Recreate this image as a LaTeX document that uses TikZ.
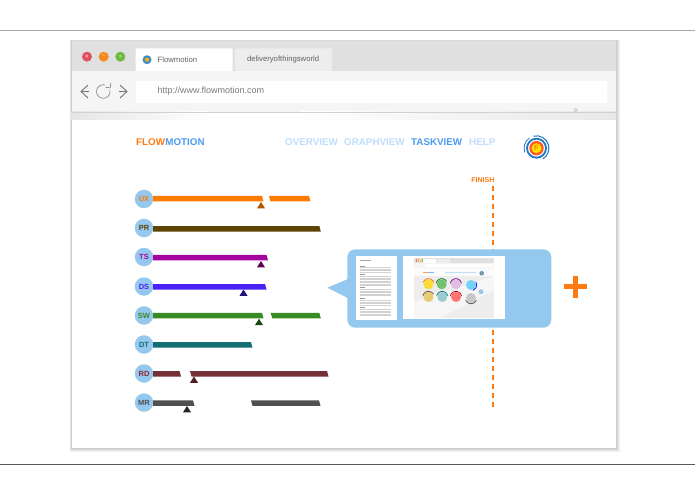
\documentclass[tikz,border=0pt]{standalone}
\usepackage{fontspec}
\setmainfont{Liberation Sans}
\usetikzlibrary{positioning}
\definecolor{badge}{HTML}{94C8EE}
\definecolor{flow}{HTML}{FF7A0F}
\definecolor{motion}{HTML}{4A9BF0}
\definecolor{navoff}{HTML}{BFDDFB}
\definecolor{logoblue}{HTML}{1F78C0}
\definecolor{closered}{HTML}{DF5060}
\definecolor{minorange}{HTML}{F28C1C}
\definecolor{maxgreen}{HTML}{6CBB3C}
\definecolor{uxbar}{HTML}{FF7A00}
\definecolor{prbar}{HTML}{5F4505}
\definecolor{tsbar}{HTML}{A5049F}
\definecolor{dsbar}{HTML}{4B22F5}
\definecolor{swbar}{HTML}{378B22}
\definecolor{dtbar}{HTML}{136D73}
\definecolor{rdbar}{HTML}{742F38}
\definecolor{mrbar}{HTML}{505050}
\tikzset{
  badgenode/.style={circle,fill=badge,minimum size=18.5pt,inner sep=0pt,font=\bfseries\fontsize{7.5}{8}\selectfont},
  navnode/.style={anchor=west,inner sep=0pt,font=\bfseries\fontsize{9.8}{12}\selectfont},
  tabnode/.style={anchor=west,inner sep=0pt,text=black!62,font=\fontsize{7.7}{9}\selectfont},
  lightnode/.style={circle,minimum size=10pt,inner sep=0pt,font=\bfseries\fontsize{6}{6}\selectfont},
  navarrow/.style={draw=black!55,line width=0.9pt},
  miniball/.style={circle,minimum size=10pt,inner sep=0pt},
  miniarc/.style={line width=0.7pt}
}
% slanted bar: colour, left, right, top y
\newcommand{\taskbar}[4]{\fill[#1] (#2,#4) -- (#3,#4) -- (#3+1.5,#4+5.5) -- (#2+1.5,#4+5.5) -- cycle;}
\newcommand{\firstbar}[4]{\fill[#1] (#2,#4) -- (#3,#4) -- (#3+1.5,#4+5.5) -- (#2,#4+5.5) -- cycle;}
\newcommand{\marker}[3]{\fill[#1] (#2-4,#3+6.3) -- (#2,#3) -- (#2+4,#3+6.3) -- cycle;}
\begin{document}
\begin{tikzpicture}[x=1pt,y=-1pt]
\useasboundingbox (0,0) rectangle (695,494);
\fill[white] (0,0) rectangle (695,494);
\draw[black!35,line width=0.8pt] (0,30) -- (695,30);
\draw[black!65,line width=0.8pt] (0,464) -- (695,464);

% window
\foreach \d in {1,2,3,4}
  \fill[black,opacity=0.05] (71.5-\d*0.5,41-\d*0.3) rectangle (616+\d,448+\d);
\fill[white] (71.5,41) rectangle (616,448);
\fill[black!12] (71.5,41) rectangle (616,71.5);
\fill[black!4] (71.5,71.5) rectangle (616,112);
\fill[left color=black!10,right color=white] (71.5,112) rectangle (208,120);
\fill[left color=white,right color=black!9] (300,112) rectangle (616,120);
\draw[black!18,line width=0.5pt] (71.5,112) -- (616,112);

% tabs
\node[lightnode,fill=closered,text=white!70!closered] (closedot) at (87,56.7) {×};
\node[lightnode,fill=minorange,text=white!60!minorange] (mindot) at (103.7,56.7) {−};
\node[lightnode,fill=maxgreen,text=white!60!maxgreen] (maxdot) at (120.3,56.7) {+};
\fill[white,rounded corners=1pt] (135.5,71) -- (135.5,48.3) -- (232.7,48.3) -- (232.7,71) -- cycle;
\fill[black!7,rounded corners=1pt] (235,71) -- (235,48.3) -- (332,48.3) -- (332,71) -- cycle;
\node[circle,fill=logoblue!85,minimum size=9pt,inner sep=0pt] (favicon) at (147,59.7) {};
\node[circle,fill=orange!60!yellow,minimum size=4pt,inner sep=0pt] (faviconcore) at (147,59.7) {};
\node[tabnode] (flowtab) at (157.5,59.7) {Flowmotion};
\node[tabnode] (worldtab) at (247,59.7) {deliveryofthingsworld};

% toolbar
\fill[white,rounded corners=1pt] (136,81) rectangle (607,103);
\node[tabnode,text=black!52,font=\fontsize{9}{10}\selectfont] (urltext) at (157.5,91.5) {http://www.flowmotion.com};
\draw[navarrow] (88,85) -- (81,91.5) -- (88,98) (81,91.5) -- (89,91.5);
\draw[navarrow] (120,85) -- (127,91.5) -- (120,98) (127,91.5) -- (119,91.5);
\coordinate (reload) at (103.3,91.5);
\draw[black!45,line width=0.7pt] (reload) ++(-75:6.8) arc (-75:-375:6.8);
\draw[black!45,line width=0.7pt] (110.8,83) -- (110.3,87.8) -- (105.5,87.3);
\node[circle,draw=black!25,line width=0.6pt,minimum size=3.5pt,inner sep=0pt] (gear) at (575.7,110) {};

% header
\node[navnode,text=flow] (flowword) at (136,142.3) {FLOW};
\node[navnode,text=motion] (motionword) at (flowword.east) {MOTION};
\node[navnode,text=navoff] (overview) at (285,142.3) {OVERVIEW};
\node[navnode,text=navoff] (graphview) at (344,142.3) {GRAPHVIEW};
\node[navnode,text=motion] (taskview) at (411,142.3) {TASKVIEW};
\node[navnode,text=navoff] (helpnav) at (469,142.3) {HELP};

% logo
\coordinate (logo) at (536.5,148.2);
\draw[logoblue,line width=1pt] (logo) ++(-105:12.4) arc (-105:60:12.4);
\draw[logoblue,line width=0.8pt] (logo) ++(-200:12.4) arc (-200:-125:12.4);
\node[circle,fill=white,draw=logoblue,line width=1.8pt,minimum size=19pt,inner sep=0pt] (logoring) at (logo) {};
\node[circle,fill=red!55!orange!85!white,minimum size=14.5pt,inner sep=0pt] (logomid) at (logo) {};
\node[circle,fill=yellow!85!orange,minimum size=10pt,inner sep=0pt,text=flow,font=\bfseries\fontsize{7.5}{8}\selectfont] (logocore) at (logo) {F};

% finish line
\node[anchor=east,inner sep=0pt,text=flow,font=\bfseries\fontsize{7}{8}\selectfont] (finish) at (494.5,180.3) {FINISH};
\coordinate (finishtop) at (493,186);
\coordinate (finishend) at (493,408);
\draw[flow,line width=1.3pt,dash pattern=on 5pt off 4pt] (finishtop) -- (finishend);

% rows
\node[badgenode,text=uxbar] (ux) at (144,199) {UX};
\node[badgenode,text=prbar] (pr) at (144,228) {PR};
\node[badgenode,text=tsbar] (ts) at (144,257) {TS};
\node[badgenode,text=dsbar] (ds) at (144,286.5) {DS};
\node[badgenode,text=swbar] (sw) at (144,315.5) {SW};
\node[badgenode,text=dtbar] (dt) at (144,344.5) {DT};
\node[badgenode,text=rdbar!80!red] (rd) at (144,373.5) {RD};
\node[badgenode,text=mrbar] (mr) at (144,402.5) {MR};

\firstbar{uxbar}{153}{262}{196}
\taskbar{uxbar}{269}{309}{196}
\firstbar{prbar}{153}{319.3}{226}
\firstbar{tsbar}{153}{266.5}{254.8}
\firstbar{dsbar}{153}{265}{284}
\firstbar{swbar}{153}{262}{312.8}
\taskbar{swbar}{270.7}{319.3}{312.8}
\firstbar{dtbar}{153}{251}{342.2}
\firstbar{rdbar}{153}{179.5}{371}
\taskbar{rdbar}{190}{327}{371}
\firstbar{mrbar}{153}{193}{400.3}
\taskbar{mrbar}{251}{319}{400.3}

\marker{uxbar!70!black}{261}{202}
\marker{tsbar!55!black}{261}{261}
\marker{dsbar!50!black}{243.5}{289.5}
\marker{swbar!50!black}{259}{318.8}
\marker{rdbar!65!black}{194}{376.5}
\marker{mrbar!45!black}{187}{406}

% callout
\fill[badge,rounded corners=8pt] (347.3,249.3) rectangle (551.3,327.7);
\fill[badge] (348,279) -- (327.3,287.7) -- (348,298) -- cycle;
\fill[white] (355.7,255.7) rectangle (397.3,320);
\fill[white] (403,255.7) rectangle (505,319.3);

% document page
\fill[black!35] (360,260) rectangle (371,260.8);
\foreach \t in {265.5,274,287,298,307}
  \fill[black!40] (360,\t) rectangle (365,\t+0.8);
\foreach \t in {267,268.5,...,272.5,276,277.5,...,285,289,290.5,...,296,300,301.5,...,305,309,310.5,...,315}
  \fill[black!18] (360,\t) rectangle (391,\t+0.7);

% screenshot
\fill[black!7] (414,257.5) rectangle (494,318);
\fill[black!12] (414,257.5) rectangle (494,263);
\fill[white] (423,258.5) rectangle (436,263);
\fill[black!7] (437,258.5) rectangle (450,263);
\fill[black!4] (414,263) rectangle (494,268);
\fill[white] (425,264) rectangle (493,267);
\fill[white,opacity=0.8] (414,268) rectangle (494,276);
\fill[white,opacity=0.5] (414,302) -- (494,276) -- (494,290) -- (440,318) -- (414,318) -- cycle;
\foreach \c/\p in {red!60/416,orange!70/418,yellow!70!orange/420,green!50!black!60/422}
  \fill[\c] (\p,259.3) rectangle (\p+1.4,261.5);
\fill[flow!70] (423,272) rectangle (428,273);
\fill[motion!70] (428,272) rectangle (434,273);
\fill[navoff] (445,272) rectangle (476,273);
\node[circle,fill=logoblue!80,minimum size=4.5pt,inner sep=0pt] (minilogo) at (481.7,273.3) {};
\node[circle,fill=orange!70!yellow,minimum size=2pt,inner sep=0pt] (minilogocore) at (481.7,273.3) {};
\node[miniball,fill=yellow!70!orange!80] (ball1) at (428.5,284.3) {};
\node[miniball,fill=green!55!black!55!white] (ball2) at (441.7,284.3) {};
\node[miniball,fill=violet!25] (ball3) at (456,284.3) {};
\node[miniball,fill=cyan!55] (ball4) at (471,285) {};
\node[miniball,fill=brown!60!yellow!65] (ball5) at (428.5,297) {};
\node[miniball,fill=teal!40] (ball6) at (442.3,297) {};
\node[miniball,fill=red!55] (ball7) at (456,297) {};
\node[miniball,fill=black!22] (ball8) at (471,298) {};
\node[circle,fill=badge,minimum size=5pt,inner sep=0pt] (miniblue) at (481,291.7) {};
\draw[miniarc,orange!90!black] (ball1) ++(-160:5.7) arc (-160:-20:5.7);
\draw[miniarc,green!45!black] (ball2) ++(-170:5.7) arc (-170:-30:5.7);
\draw[miniarc,violet] (ball3) ++(-170:5.7) arc (-170:-10:5.7);
\draw[miniarc,blue] (ball4) ++(-30:5.7) arc (-30:70:5.7);
\draw[miniarc,brown!60!black] (ball5) ++(-170:5.7) arc (-170:-30:5.7);
\draw[miniarc,teal] (ball6) ++(-170:5.7) arc (-170:-10:5.7);
\draw[miniarc,red!70!black] (ball7) ++(-170:5.7) arc (-170:-10:5.7);
\draw[miniarc,black!70] (ball8) ++(160:5.7) arc (160:20:5.7);

% plus
\fill[flow] (572.6,275.7) rectangle (577.6,298.3);
\fill[flow] (563.7,284.3) rectangle (586.7,289.3);
\end{tikzpicture}
\end{document}
